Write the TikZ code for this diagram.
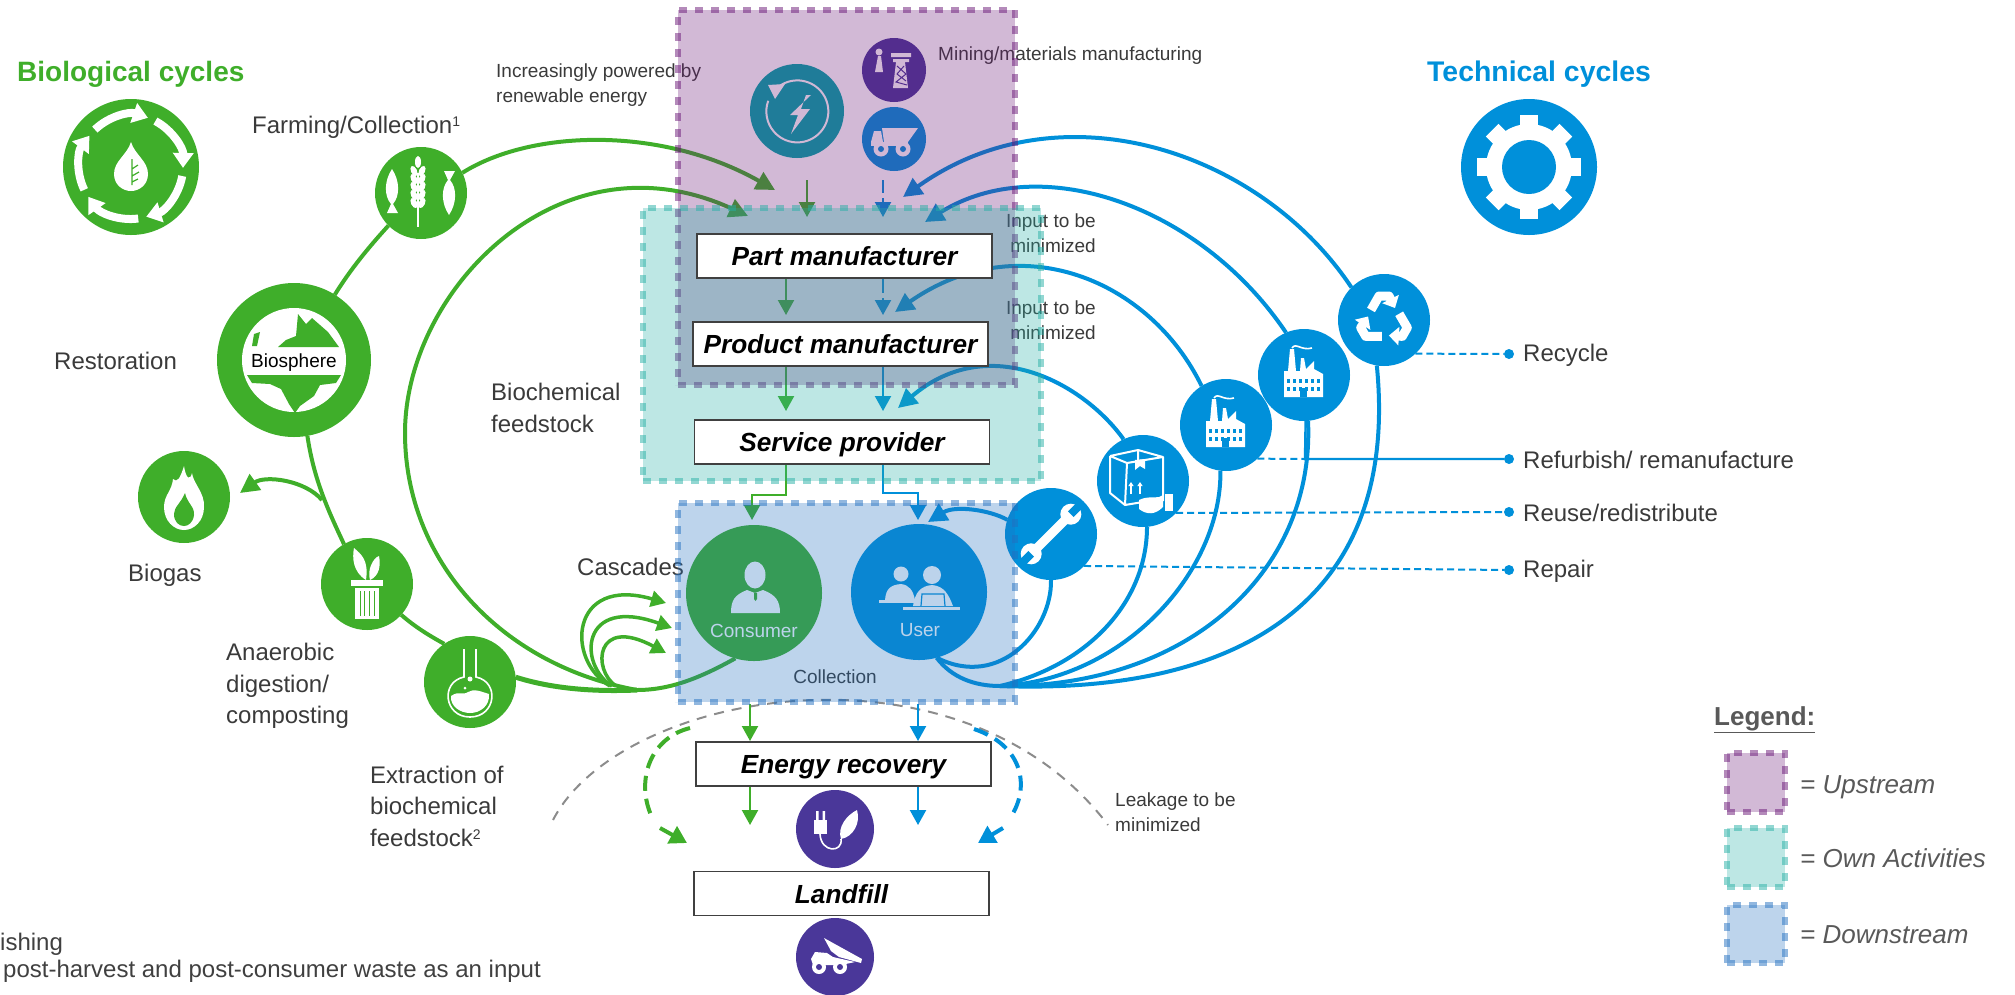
\documentclass[tikz,border=0pt]{standalone}
\usepackage{fontspec}
\setmainfont{Liberation Sans}
\usetikzlibrary{arrows.meta}

\definecolor{bgreen}{HTML}{3FAE2A}
\definecolor{tblue}{HTML}{0090DA}
\definecolor{iconpurple}{HTML}{4A3799}
\definecolor{iconteal}{HTML}{00A9A9}
\definecolor{upcol}{HTML}{691676}
\definecolor{owncol}{HTML}{26AFA5}
\definecolor{downcol}{HTML}{2370C0}
\definecolor{txtgrey}{HTML}{3A3A3A}
\definecolor{legendgrey}{HTML}{595959}

\newcommand{\smallmark}[1]{{\fontsize{14}{14}\selectfont\raisebox{7pt}{#1}}}

\tikzset{
	disc/.style={circle,inner sep=0pt,outer sep=0pt,minimum size=92pt,fill=#1},
	lbl/.style={font=\fontsize{24}{31.5}\selectfont,text=txtgrey,anchor=west,align=left,inner sep=0pt},
	smlbl/.style={font=\fontsize{19}{24.5}\selectfont,text=txtgrey,anchor=west,align=left,inner sep=0pt},
	stagebox/.style={draw=black!75,line width=1.6pt,fill=white,inner sep=0pt,minimum width=295pt,minimum height=44pt,text height=19.5pt,text depth=0pt,font=\fontsize{26.2}{30}\selectfont\bfseries\itshape},
	zone/.style={fill=#1,draw=#1,fill opacity=0.3,draw opacity=0.5,line width=6.5pt,dash pattern=on 8pt off 8pt,inner sep=0pt,outer sep=0pt,anchor=north west},
	flow/.style={#1,line width=4pt,-{Triangle[length=19pt,width=19pt]}},
	link/.style={#1,line width=4pt},
	stepdown/.style={#1,line width=2.2pt,-{Triangle[length=15pt,width=16pt]}},
	bigdash/.style={#1,line width=4pt,dash pattern=on 15pt off 8pt},
	dashtip/.style={#1,line width=4pt,-{Triangle[length=17pt,width=19pt]}},
	tieline/.style={tblue,line width=2pt,dash pattern=on 7pt off 4pt},
	enddot/.style={circle,fill=tblue,inner sep=0pt,minimum size=10pt},
	endlbl/.style={lbl,right=14pt,yshift=-1pt},
	keylbl/.style={lbl,text=legendgrey,font=\fontsize{26}{30}\selectfont\itshape},
}

\begin{document}
\begin{tikzpicture}[x=1pt,y=-1pt]
\useasboundingbox (0,0) rectangle (2015,994);

\def\factoryglyph{
	\fill[white] (-20,22)--(-20,-4)--(-16,-4)--(-14,-26)--(-10,-26)--(-8,-4)--(-4,-4)--(-3,-17)--(0,-17)--(2,-6)--(10,-14)--(10,-6)--(19,-1)--(19,22)--cycle;
	\draw[white,line width=1.6pt] (-12,-27) .. controls (-8,-33) and (-3,-24) .. (8,-27);
	\foreach \yy in {6,14}
		\foreach \xx in {-16,-10,-4,2,8,14}
			\fill[tblue] (\xx-1.5,\yy-2) rectangle (\xx+1.5,\yy+2);
	\fill[tblue] (-4,13) rectangle (3,22);
}
\def\fishglyph{
	\fill[white] (0,-22) .. controls (8,-10) and (8,5) .. (1,13) -- (6,22) -- (-5,22) -- (-1,13) .. controls (-8,5) and (-8,-10) .. (0,-22);
}

\node[disc=bgreen,minimum size=136pt] (biocycle) at (131,167) {};
\begin{scope}[shift={(biocycle)}]
	\foreach \a in {10,82,154,226,298}
		\draw[white,line width=8pt,-{Triangle[length=15pt,width=20pt]}] (\a:52) arc[start angle=\a,end angle=\a+63,radius=52];
	\fill[white] (0,-25) .. controls (4,-12) and (17,-6) .. (17,7) .. controls (17,18) and (8,24) .. (0,24) .. controls (-8,24) and (-17,18) .. (-17,7) .. controls (-17,-6) and (-4,-12) .. (0,-25);
	\draw[bgreen,line width=1.2pt] (1,-8)--(1,18) (1,2)--(7,-2) (1,9)--(8,5) (1,15)--(7,12);
\end{scope}

\node[disc=bgreen] (farming) at (421,193) {};
\begin{scope}[shift={(farming)}]
	\draw[white,line width=1.5pt] (-3,-20)--(-3,34);
	\foreach \yy in {-22,-14,-6,2,10}{
		\fill[white,rotate around={25:(-7,\yy)}] (-7,\yy) ellipse[x radius=3,y radius=5.5];
		\fill[white,rotate around={-25:(1,\yy)}] (1,\yy) ellipse[x radius=3,y radius=5.5];
	}
	\fill[white] (-3,-31) ellipse[x radius=3,y radius=6];
	\begin{scope}[shift={(-29,-2)}]\fishglyph\end{scope}
	\begin{scope}[shift={(28,0)},yscale=-1]\fishglyph\end{scope}
\end{scope}

\node[disc=bgreen,minimum size=154pt] (biosphere) at (294,360) {};
\begin{scope}[shift={(biosphere)}]
	\fill[white] (0,0) circle[radius=52];
	\fill[bgreen] (-16,-13)--(-8,-20)--(2,-24)--(4,-46)--(12,-36)--(18,-42)--(34,-28)--(45,-13)--cycle;
	\fill[bgreen] (-42,-14)--(-40,-26)--(-34,-28)--(-37,-14)--cycle;
	\fill[bgreen] (-47,15)--(47,15)--(42,23)--(26,25)--(20,36)--(6,46)--(1,53)--(-5,44)--(-13,29)--(-24,24)--(-42,23)--cycle;
	\node[inner sep=0pt,text=black,font=\fontsize{19}{20}\selectfont] (biospherelabel) at (0,3) {Biosphere};
\end{scope}

\node[disc=bgreen] (biogas) at (184,497) {};
\begin{scope}[shift={(biogas)}]
	\fill[white] (0,-31) .. controls (2,-18) and (6,-16) .. (8,-24) .. controls (9,-14) and (21,-4) .. (20,10) .. controls (20,24) and (10,33) .. (0,33) .. controls (-10,33) and (-20,24) .. (-20,10) .. controls (-20,-2) and (-12,-6) .. (-11,-18) .. controls (-7,-14) and (-4,-18) .. (0,-31);
	\fill[bgreen] (1,-4) .. controls (3,6) and (11,10) .. (10,18) .. controls (9,26) and (4,29) .. (0,29) .. controls (-5,29) and (-10,25) .. (-10,17) .. controls (-10,10) and (-3,6) .. (1,-4);
\end{scope}

\node[disc=bgreen] (digestion) at (367,584) {};
\begin{scope}[shift={(digestion)}]
	\fill[white] (-1,-4) .. controls (-14,-12) and (-15,-26) .. (-13,-36) .. controls (-6,-30) and (2,-24) .. (-1,-4);
	\fill[white] (3,-4) .. controls (0,-14) and (6,-26) .. (12,-28) .. controls (14,-18) and (12,-8) .. (3,-4);
	\fill[white] (-16,-4) rectangle (16,2);
	\fill[white] (-12,4) rectangle (12,35);
	\foreach \xx in {-7,-2.5,2.5,7}
		\draw[bgreen,line width=1pt] (\xx,7)--(\xx,32);
\end{scope}

\node[disc=bgreen] (extraction) at (470,682) {};
\begin{scope}[shift={(extraction)}]
	\draw[white,line width=1.6pt] (-6,-33)--(-6,-5) .. controls (-30,0) and (-26,35) .. (0,35) .. controls (26,35) and (30,0) .. (6,-5) -- (6,-33);
	\fill[white] (-19,14) .. controls (-10,8) and (-8,14) .. (-2,10) .. controls (4,6) and (12,10) .. (19,12) .. controls (20,24) and (10,31) .. (0,31) .. controls (-10,31) and (-20,24) .. (-19,14);
	\fill[white] (0,-3) circle[radius=2.5] (-5,6) circle[radius=1.5];
\end{scope}

\node[disc=bgreen,minimum size=136pt] (consumer) at (754,593) {};
\begin{scope}[shift={(consumer)}]
	\fill[white] (1,-18) ellipse[x radius=10.5,y radius=13.5];
	\fill[white] (-23,20) .. controls (-23,8) and (-20,2) .. (-7,-3) -- (1,0) -- (9,-3) .. controls (22,2) and (26,8) .. (26,20) -- cycle;
	\fill[bgreen] (0,0)--(3,0)--(3,6)--(1.5,8)--(0,6)--cycle;
	\node[inner sep=0pt,text=white,font=\fontsize{19}{20}\selectfont] (consumerlabel) at (0,38) {Consumer};
\end{scope}

\node[disc=tblue,minimum size=136pt] (user) at (919,592) {};
\begin{scope}[shift={(user)}]
	\fill[white] (-18,-18) circle[radius=7.5];
	\fill[white] (-34,8) .. controls (-33,-4) and (-28,-7) .. (-18,-8) .. controls (-10,-7) and (-6,-2) .. (-4,8) -- cycle;
	\fill[white] (-40,8) rectangle (-4,10.5);
	\fill[white] (13,-17) circle[radius=9];
	\fill[white] (-6,14) .. controls (-4,0) and (2,-6) .. (13,-7) .. controls (26,-6) and (30,4) .. (34,14) -- cycle;
	\draw[tblue,line width=1.2pt] (2,14)--(3,2)--(25,2)--(26,14);
	\fill[white] (-16,15) rectangle (41,18);
	\node[inner sep=0pt,text=white,font=\fontsize{19}{20}\selectfont] (userlabel) at (1,38) {User};
\end{scope}

\node[disc=tblue] (repairdisc) at (1051,534) {};
\begin{scope}[shift={(repairdisc)},rotate=45]
	\draw[white,line width=9pt] (-24,0)--(24,0);
	\foreach \s in {-1,1}{
		\fill[white] (\s*28,0) circle[radius=10.5];
		\fill[tblue] (\s*28,-4) rectangle (\s*40,4);
	}
\end{scope}

\node[disc=tblue] (boxdisc) at (1143,481) {};
\begin{scope}[shift={(boxdisc)}]
	\draw[white,line width=2pt,line join=round] (-33,-25)--(-5,-31)--(20,-24)--(20,20) (-33,-25)--(-33,12)--(-18,24)--(6,20) (-33,-25)--(-16,-18)--(-18,24) (-16,-18)--(20,-24) (-5,-31)--(-5,-20);
	\fill[white] (-8,-21)--(2,-22)--(2,-12)--(-3,-15)--(-8,-11)--cycle;
	\foreach \xx in {-12,-3}{
		\draw[white,line width=1.6pt,-{Triangle[length=4pt,width=5pt]}] (\xx,13)--(\xx,1);
	}
	\fill[white] (-4,19) .. controls (4,15) and (12,17) .. (16,16) -- (20,14) -- (20,26) .. controls (12,34) and (4,34) .. (-4,28) -- cycle;
	\fill[white] (22,13) rectangle (30,30);
\end{scope}

\node[disc=tblue] (factoryone) at (1226,425) {};
\begin{scope}[shift={(factoryone)}]\factoryglyph\end{scope}
\node[disc=tblue] (factorytwo) at (1304,375) {};
\begin{scope}[shift={(factorytwo)}]\factoryglyph\end{scope}

\node[disc=tblue] (recycledisc) at (1384,320) {};
\begin{scope}[shift={(recycledisc)}]
	\foreach \r in {0,120,240}{
		\begin{scope}[rotate=\r,shift={(0,2)}]
			\draw[white,line width=9pt,line join=round,-{Triangle[length=10pt,width=18pt]}] (-13,-12)--(-5,-26)--(5,-26)--(11,-14);
		\end{scope}
	}
\end{scope}

\node[disc=tblue,minimum size=136pt] (gear) at (1529,167) {};
\begin{scope}[shift={(gear)}]
	\foreach \r in {0,45,...,315}
		\fill[white,rotate=\r] (-9,-52) rectangle (9,-38);
	\fill[white] (0,0) circle[radius=43];
	\fill[tblue] (0,0) circle[radius=27];
\end{scope}

\node[disc=iconteal,minimum size=94pt] (powerdisc) at (797,111) {};
\begin{scope}[shift={(powerdisc)}]
	\draw[white,line width=2pt] (-20,-23) arc[start angle=-131,end angle=200,radius=31];
	\fill[white] (-29,-26)--(-12,-27)--(-22,-12)--cycle;
	\fill[white] (14,-16)--(-7,4)--(1,4)--(-6,23)--(13,-2)--(4,-2)--(9,-16)--cycle;
\end{scope}

\node[disc=iconpurple,minimum size=64pt] (pylondisc) at (894,70) {};
\begin{scope}[shift={(pylondisc)}]
	\fill[white] (-15,-18) circle[radius=3.5];
	\fill[white] (-16,-14)--(-13,-14)--(-11,2)--(-19,2)--cycle;
	\fill[white] (-3,-17) rectangle (17,-13) (-1,-11) rectangle (15,-8);
	\fill[white] (2,-8)--(11,-8)--(14,18)--(-1,18)--cycle;
	\draw[iconpurple,line width=1pt] (3,-4)--(12,4)--(2,12)--(13,15) (10,-4)--(3,4)--(12,11);
\end{scope}

\node[disc=tblue,minimum size=64pt] (minetruck) at (894,139) {};
\begin{scope}[shift={(minetruck)}]
	\fill[white] (-12,-11)--(24,-11)--(14,3)--(-10,3)--cycle;
	\fill[white] (-23,3)--(-20,-8)--(-13,-8)--(-11,3)--cycle;
	\fill[white] (-23,3) rectangle (14,7);
	\foreach \xx in {-13,9}{
		\fill[white] (\xx,10) circle[radius=7.5];
		\fill[tblue] (\xx,10) circle[radius=3];
	}
\end{scope}

\node[disc=iconpurple,minimum size=78pt] (plugdisc) at (835,829) {};
\begin{scope}[shift={(plugdisc)}]
	\fill[white] (-21,-9) rectangle (-8,5);
	\fill[white] (-19,-18) rectangle (-16.5,-9) (-12.5,-18) rectangle (-10,-9);
	\draw[white,line width=1.6pt] (-15,5) .. controls (-14,24) and (8,24) .. (6,10);
	\fill[white] (6,10) .. controls (2,-2) and (12,-14) .. (22,-19) .. controls (26,-6) and (18,8) .. (6,10);
\end{scope}

\node[disc=iconpurple,minimum size=78pt] (tipdisc) at (835,957) {};
\begin{scope}[shift={(tipdisc)}]
	\fill[white] (-11,-19)--(27,2)--(26,6)--(4,0)--(-4,-6)--cycle;
	\fill[white] (-24,2)--(-20,-5)--(-8,-4)--(-2,0)--(20,5)--(6,8)--(-22,8)--cycle;
	\foreach \xx in {-16,5}{
		\fill[white] (\xx,10) circle[radius=7];
		\fill[iconpurple] (\xx,10) circle[radius=3];
	}
\end{scope}

\coordinate (greenjoin) at (637,690);
\coordinate (bluebase) at (1000,686);
\coordinate (biogasfork) at (322,500);
\coordinate (greenin-a) at (775,190);
\coordinate (greenin-b) at (748,216);
\coordinate (bluein-a) at (903,197);
\coordinate (bluein-b) at (925,222);
\coordinate (bluein-c) at (895,312);
\coordinate (bluein-d) at (898,408);
\coordinate (biogasin) at (240,493);
\coordinate (usertop) at (928,522);

\draw[link=bgreen] (biosphere.58) .. controls (350,270) and (368,248) .. (farming.225);
\draw[link=bgreen] (biosphere.-80) .. controls (314,480) and (328,510) .. (digestion.120);
\draw[link=bgreen] (digestion.-42) .. controls (415,627) and (430,636) .. (extraction.124);
\draw[link=bgreen,line width=5pt] (extraction.6) .. controls (550,688) and (590,692) .. (greenjoin);
\draw[link=bgreen] (consumer.-106) .. controls (700,678) and (670,690) .. (greenjoin);
\draw[flow=bgreen] (biogasfork) .. controls (305,480) and (265,475) .. (biogasin);
\draw[flow=bgreen] (farming.26) .. controls (530,130) and (660,125) .. (greenin-a);
\draw[flow=bgreen] (greenjoin) .. controls (500,665) and (405,560) .. (405,433) .. controls (405,290) and (560,130) .. (greenin-b);

\foreach \ax/\ay/\bx/\by/\cx/\cy/\ex/\ey in {610/686/565/660/570/575/666/603,612/686/578/665/580/595/672/628,616/686/592/670/595/615/666/653}
	\draw[flow=bgreen,line width=3.5pt,-{Triangle[length=15pt,width=16pt]}] (\ax,\ay) .. controls (\bx,\by) and (\cx,\cy) .. (\ex,\ey);

\draw[link=tblue] (recycledisc.261) .. controls (1400,600) and (1240,695) .. (bluebase);
\draw[link=tblue] (factorytwo.-85) .. controls (1315,570) and (1190,688) .. (bluebase);
\draw[link=tblue] (factoryone.-97) .. controls (1222,570) and (1125,680) .. (bluebase);
\draw[link=tblue] (boxdisc.-85) .. controls (1147,600) and (1090,665) .. (bluebase);
\draw[link=tblue] (bluebase) .. controls (975,686) and (952,678) .. (user.-75);
\draw[link=tblue] (repairdisc.south) .. controls (1052,630) and (1000,690) .. (user.-75);
\draw[flow=tblue] (repairdisc.162) .. controls (990,510) and (955,505) .. (usertop);
\draw[flow=tblue] (recycledisc.135) .. controls (1260,150) and (1060,85) .. (bluein-a);
\draw[flow=tblue] (factorytwo.113) .. controls (1200,205) and (1040,150) .. (bluein-b);
\draw[flow=tblue] (factoryone.122) .. controls (1150,280) and (1020,225) .. (bluein-c);
\draw[flow=tblue] (boxdisc.115) .. controls (1085,385) and (990,330) .. (bluein-d);

\coordinate (leakleft) at (553,820);
\coordinate (leakright) at (1108,825);
\draw[black!45,line width=2pt,dash pattern=on 10pt off 8pt] (leakleft) .. controls (620,690) and (960,630) .. (leakright);

\coordinate (greendashstart) at (690,728);
\coordinate (greendashmid) at (651,815);
\coordinate (greendashtail) at (660,828);
\coordinate (greendashend) at (687,843);
\coordinate (bluedashstart) at (974,729);
\coordinate (bluedashmid) at (1012,815);
\coordinate (bluedashtail) at (1003,828);
\coordinate (bluedashend) at (978,843);
\draw[bigdash=bgreen] (greendashstart) .. controls (650,738) and (636,780) .. (greendashmid);
\draw[dashtip=bgreen] (greendashtail) -- (greendashend);
\draw[bigdash=tblue] (bluedashstart) .. controls (1022,745) and (1030,785) .. (bluedashmid);
\draw[dashtip=tblue] (bluedashtail) -- (bluedashend);

\node[lbl,text=bgreen,font=\fontsize{28}{32}\selectfont\bfseries] (biotitle) at (17,74) {Biological cycles};
\node[lbl,text=tblue,font=\fontsize{28.4}{32}\selectfont\bfseries] (techtitle) at (1427,74) {Technical cycles};
\node[lbl] (farminglabel) at (252,127) {Farming/Collection\smallmark{1}};
\node[lbl] (restorationlabel) at (54,361) {Restoration};
\node[lbl] (biogaslabel) at (128,575) {Biogas};
\node[lbl] (digestionlabel) at (226,686) {Anaerobic\\digestion/\\composting};
\node[lbl] (extractionlabel) at (370,806) {Extraction of\\biochemical\\feedstock\smallmark{2}};
\node[lbl] (cascadeslabel) at (577,567) {Cascades};
\node[lbl] (feedstocklabel) at (491,408) {Biochemical\\feedstock};
\node[smlbl] (renewlabel) at (496,85) {Increasingly powered by\\renewable energy};
\node[smlbl] (mininglabel) at (938,56) {Mining/materials manufacturing};
\node[smlbl,anchor=east,align=right] (inputone) at (1096,233) {Input to be\\minimized};
\node[smlbl,anchor=east,align=right] (inputtwo) at (1096,320) {Input to be\\minimized};
\node[smlbl,anchor=center] (collectionlabel) at (835,677) {Collection};
\node[smlbl] (leakagelabel) at (1115,812) {Leakage to be\\minimized};

\node[enddot] (recycledot) at (1509,354) {};
\node[enddot] (refurbdot) at (1509,459) {};
\node[enddot] (reusedot) at (1509,512) {};
\node[enddot] (repairdot) at (1509,570) {};
\node[endlbl] (recyclelabel) at (recycledot) {Recycle};
\node[endlbl] (refurblabel) at (refurbdot) {Refurbish/ remanufacture};
\node[endlbl] (reuselabel) at (reusedot) {Reuse/redistribute};
\node[endlbl] (repairlabel) at (repairdot) {Repair};
\draw[tieline] (recycledisc.-47.6) -- (recycledot);
\draw[tieline] (repairdisc.-44) -- (repairdot);
\draw[tieline] (boxdisc.-44) -- (reusedot);
\coordinate (refurbfork) at (1305,459);
\draw[tieline] (factoryone.-47.6) -- (refurbfork);
\draw[tblue,line width=2.4pt] (factorytwo.-88) -- (refurbfork) -- (refurbdot);

\draw[stepdown=bgreen] (807,180) -- (807,217);
\draw[tblue,line width=2.2pt] (883,180) -- (883,193);
\draw[stepdown=tblue] (883,198) -- (883,217);
\draw[tblue,line width=2.2pt] (883,279) -- (883,293);
\draw[stepdown=tblue] (883,298) -- (883,315);

\foreach \x/\col/\first/\second in {786/bgreen/279/315,786/bgreen/366/411,883/tblue/366/411}
	\draw[stepdown=\col] (\x,\first) -- (\x,\second);

\draw[stepdown=bgreen] (786,465) |- (752,495) -- (752,520);
\draw[stepdown=tblue] (883,465) |- (918,493) -- (918,520);
\draw[stepdown=bgreen] (750,704) -- (750,741);
\draw[stepdown=tblue] (918,704) -- (918,741);
\draw[stepdown=bgreen] (750,787) -- (750,825);
\draw[stepdown=tblue] (918,787) -- (918,825);

\node[zone=upcol,minimum width=337pt,minimum height=375pt] (upstreamzone) at (678,10) {};
\node[zone=owncol,minimum width=398pt,minimum height=273pt] (ownzone) at (643,208) {};
\node[zone=downcol,minimum width=337pt,minimum height=199pt] (downzone) at (678,503) {};

\node[stagebox] (partbox) at (844.5,256) {Part manufacturer};
\node[stagebox] (productbox) at (840.5,344) {Product manufacturer};
\node[stagebox] (servicebox) at (842,442) {Service provider};
\node[stagebox] (energybox) at (843.5,764) {Energy recovery};
\node[stagebox] (landfillbox) at (841.5,893.5) {Landfill};

\node[lbl,text=legendgrey,font=\fontsize{26}{30}\selectfont\bfseries] (legendtitle) at (1714,720) {\underline{Legend:}};
\node[zone=upcol,minimum width=58pt,minimum height=59pt] (legendup) at (1727,753) {};
\node[zone=owncol,minimum width=58pt,minimum height=59pt] (legendown) at (1727,828) {};
\node[zone=downcol,minimum width=58pt,minimum height=58pt] (legenddown) at (1727,905) {};
\node[keylbl] (uplabel) at (1800,787) {= Upstream};
\node[keylbl] (ownlabel) at (1800,858) {= Own Activities};
\node[keylbl] (downlabel) at (1800,935) {= Downstream};

\node[lbl,text=black!75] (footnoteone) at (0,944) {ishing};
\node[lbl,text=black!75] (footnotetwo) at (3,971) {post-harvest and post-consumer waste as an input};
\end{tikzpicture}
\end{document}
